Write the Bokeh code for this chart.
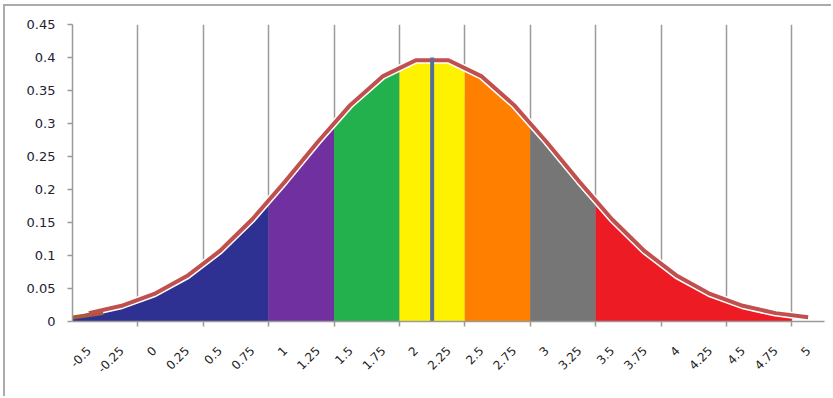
from bokeh.plotting import figure
from bokeh.models import Range1d, FixedTicker, CustomJSTickFormatter
from bokeh.embed import file_html
from bokeh.resources import INLINE

# ---- data ----
categories = [-0.5, -0.25, 0, 0.25, 0.5, 0.75, 1, 1.25, 1.5, 1.75, 2, 2.25,
              2.5, 2.75, 3, 3.25, 3.5, 3.75, 4, 4.25, 4.5, 4.75, 5]
x_labels = ["-0.5", "-0.25", "0", "0.25", "0.5", "0.75", "1", "1.25", "1.5",
            "1.75", "2", "2.25", "2.5", "2.75", "3", "3.25", "3.5", "3.75",
            "4", "4.25", "4.5", "4.75", "5"]
density = [0.0127, 0.0238, 0.0417, 0.0688, 0.1065, 0.1550, 0.2119, 0.2720,
           0.3282, 0.3718, 0.3958, 0.3958, 0.3718, 0.3282, 0.2720, 0.2119,
           0.1550, 0.1065, 0.0688, 0.0417, 0.0238, 0.0127, 0.0063]
# shaded bands: first and last category of each band
band_first = [-0.5, 1, 1.5, 2, 2.5, 3, 3.5]
band_last = [0.75, 1.25, 1.75, 2.25, 2.75, 3.25, 4.75]
band_colors = ["#2E3192", "#7030A0", "#22B14C", "#FFF200", "#FF7F00",
               "#767676", "#ED1C24"]
mean_value = 2.125
mean_top = 0.40
lead_x = [-0.625, -0.39]
lead_y = [0.0060, 0.0130]
y_ticks = [0, 0.05, 0.1, 0.15, 0.2, 0.25, 0.3, 0.35, 0.4, 0.45]
y_labels = ["0", "0.05", "0.1", "0.15", "0.2", "0.25", "0.3", "0.35", "0.4", "0.45"]

step = categories[1] - categories[0]
half = step / 2


def value_at(x):
    # value along the drawn (piecewise linear) line
    n = len(categories)
    if x <= categories[0]:
        i = 0
    elif x >= categories[-1]:
        i = n - 2
    else:
        i = int((x - categories[0]) // step)
        i = min(i, n - 2)
    x0, x1 = categories[i], categories[i + 1]
    y0, y1 = density[i], density[i + 1]
    return y0 + (y1 - y0) * (x - x0) / (x1 - x0)


p = figure(width=828, height=392,
           x_range=Range1d(categories[0] - half, categories[-1] + half),
           y_range=Range1d(0, 0.45),
           output_backend="svg", toolbar_location=None,
           min_border_left=67, min_border_right=9,
           min_border_top=18, min_border_bottom=77)
p.outline_line_color = None
p.background_fill_color = "white"
p.border_fill_color = "white"
p.styles = {"border-left": "2px solid #ababab", "border-top": "2px solid #ababab",
            "margin-left": "3px", "margin-top": "4px"}

# bands
for f, l, c in zip(band_first, band_last, band_colors):
    xs = [f - half] + [v for v in categories if f <= v <= l] + [l + half]
    ys = [value_at(x) for x in xs]
    p.patch(xs + [l + half, f - half], ys + [0, 0], fill_color=c,
            line_color=None)

# curve
p.line(categories, density, line_color="white", line_width=7)
p.line(lead_x, lead_y, line_color="#A85A3A", line_width=4)
p.line(categories, density, line_color="#C0504D", line_width=4)

# mean marker
p.segment(x0=[mean_value], y0=[0], x1=[mean_value], y1=[mean_top],
          line_color="#56709A", line_width=4)

# axes
grid_pos = [c - half for c in categories[2::2]]
xa = p.xaxis[0]
xa.ticker = FixedTicker(ticks=categories, minor_ticks=grid_pos)
xa.formatter = CustomJSTickFormatter(args=dict(labels=x_labels),
                                     code="return labels[index];")
xa.major_label_orientation = 0.785398
xa.major_tick_out = 0
xa.major_tick_in = 0
xa.minor_tick_out = 5
xa.minor_tick_in = 0
xa.minor_tick_line_color = "#9a9a9a"
xa.minor_tick_line_width = 1.5
xa.axis_line_color = "#9a9a9a"
xa.axis_line_width = 1.5
xa.major_label_standoff = 22
xa.major_label_text_font = "DejaVu Sans"
xa.major_label_text_font_size = "12px"
xa.major_label_text_color = "#222222"

ya = p.yaxis[0]
ya.ticker = FixedTicker(ticks=y_ticks, minor_ticks=[])
ya.formatter = CustomJSTickFormatter(args=dict(labels=y_labels),
                                     code="return labels[index];")
ya.major_tick_out = 5
ya.major_tick_in = 0
ya.minor_tick_out = 0
ya.minor_tick_in = 0
ya.major_tick_line_color = "#9a9a9a"
ya.major_tick_line_width = 1.5
ya.axis_line_color = "#9a9a9a"
ya.axis_line_width = 1.5
ya.major_label_standoff = 12
ya.major_label_text_font = "DejaVu Sans"
ya.major_label_text_font_size = "13px"
ya.major_label_text_color = "#222233"

p.ygrid.grid_line_color = None
p.xgrid.grid_line_color = None
p.xgrid.ticker = FixedTicker(ticks=categories, minor_ticks=grid_pos)
p.xgrid.minor_grid_line_color = "#9a9a9a"
p.xgrid.minor_grid_line_width = 1.5

open("out.html", "w").write(file_html(p, INLINE))
